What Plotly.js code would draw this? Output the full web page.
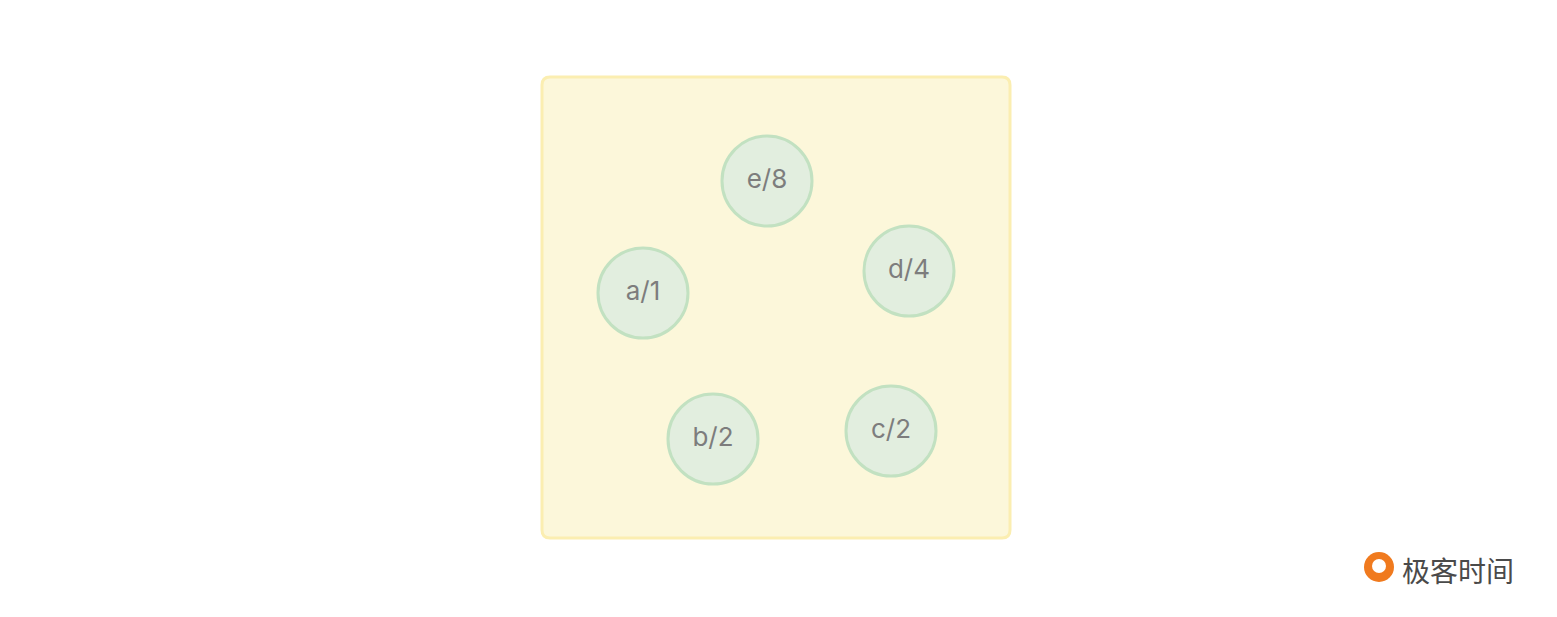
<!DOCTYPE html>
<html>
<head>
<meta charset="utf-8">
<script src="https://cdn.plot.ly/plotly-3.0.1.min.js"></script>
<style>html,body{margin:0;padding:0;background:#fff}#chart{width:1557px;height:617px}</style>
</head>
<body>
<div id="chart"></div>
<script>
// node labels and centers (pixel coordinates of the picture)
const etiquetas = ['e/8', 'a/1', 'd/4', 'b/2', 'c/2'];
const centrosX = [767, 643, 909, 713, 891];
const centrosY = [181, 293, 271, 439, 431];

const W = 1557, H = 617;

// rounded box path
function rectRedondo(x0, y0, x1, y1, r) {
  return `M${x0 + r},${y0} L${x1 - r},${y0} Q${x1},${y0} ${x1},${y0 + r} L${x1},${y1 - r} Q${x1},${y1} ${x1 - r},${y1} L${x0 + r},${y1} Q${x0},${y1} ${x0},${y1 - r} L${x0},${y0 + r} Q${x0},${y0} ${x0 + r},${y0} Z`;
}

const nodos = {
  x: centrosX,
  y: centrosY,
  text: etiquetas,
  mode: 'markers+text',
  textposition: 'middle center',
  textfont: { size: 26, color: '#7d7d7d', family: 'Inter, Roboto, sans-serif' },
  marker: { size: 90, color: '#e2eedf', line: { color: '#c2e1c1', width: 3 } },
  hoverinfo: 'skip',
  showlegend: false
};

const layout = {
  width: W, height: H,
  margin: { l: 0, r: 0, t: 0, b: 0 },
  paper_bgcolor: '#ffffff',
  plot_bgcolor: '#ffffff',
  xaxis: { range: [0, W], visible: false, fixedrange: true },
  yaxis: { range: [H, 0], visible: false, fixedrange: true },
  shapes: [
    { type: 'path', path: rectRedondo(542, 77, 1010, 538, 8), fillcolor: '#fcf7da',
      line: { color: '#fbeeb1', width: 3 }, layer: 'below' },
    { type: 'circle', x0: 1364, y0: 552, x1: 1394, y1: 582, fillcolor: '#f07a1e', line: { width: 0 } },
    { type: 'circle', x0: 1372, y0: 559, x1: 1386, y1: 573, fillcolor: '#ffffff', line: { width: 0 } }
  ],
  annotations: [
    { x: 1400, y: 570, xanchor: 'left', yanchor: 'middle', showarrow: false,
      text: '极客时间', font: { size: 28, color: '#4a4a4a', family: 'Noto Sans CJK SC' } }
  ]
};

Plotly.newPlot('chart', [nodos], layout, { displayModeBar: false, staticPlot: true });
</script>
</body>
</html>
